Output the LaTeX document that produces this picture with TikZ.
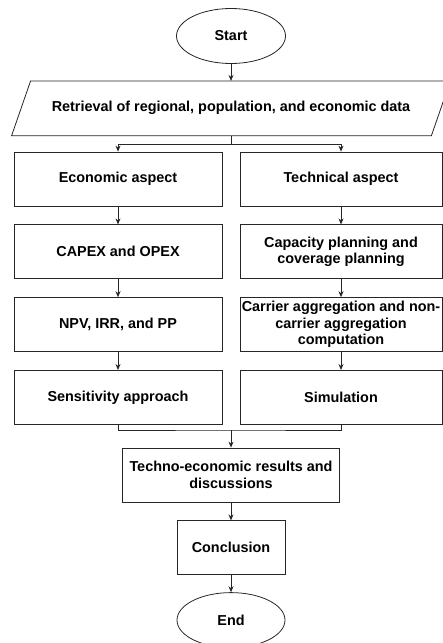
\documentclass[tikz,border=0pt]{standalone}
\usepackage{fontspec}
\setmainfont{Liberation Sans}
\usetikzlibrary{positioning}
\usetikzlibrary{shapes.geometric}
\usetikzlibrary{arrows.meta}

\begin{document}
\begin{tikzpicture}[
    x=1pt, y=1pt,
    line width=0.8pt,
    every node/.style={font=\fontsize{14.4}{16.6}\selectfont\bfseries, inner sep=1pt},
    box/.style={rectangle, draw=black!85, minimum width=208pt, minimum height=54pt, align=center},
    rbox/.style={box, minimum width=202pt},
    term/.style={ellipse, draw=black!85, minimum width=109pt, minimum height=55pt},
    io/.style={rectangle, minimum width=419pt, minimum height=54pt},
    >={Stealth[length=6pt, width=5pt]},
    node distance=18pt
    ]
    \useasboundingbox (0,0) rectangle (443,-643);
    %Nodes
    \node[term] (start) at (231,-36) {Start};
    \node[io] (data) [below=17pt of start] {Retrieval of regional, population, and economic data};
    \draw[black!85] ([xshift=-9.5pt]data.south west) -- ([xshift=-9.5pt]data.south east)
        -- ([xshift=9.5pt]data.north east) -- ([xshift=9.5pt]data.north west) -- cycle;

    \node[box] (1A) at (118,-179) {Economic aspect};
    \node[box] (1B) [below=of 1A] {CAPEX and OPEX};
    \node[box] (1C) [below=of 1B] {NPV, IRR, and PP};
    \node[box] (1D) [below=of 1C] {Sensitivity approach};

    \node[rbox] (2A) at (341,-179) {Technical aspect};
    \node[rbox] (2B) [below=of 2A] {Capacity planning and\\coverage planning};
    \node[rbox] (2C) [below=of 2B] {Carrier aggregation and non-\\carrier aggregation\\computation};
    \node[rbox] (2D) [below=of 2C] {Simulation};

    \node[box, minimum width=217pt] (res) at (231,-475) {Techno-economic results and\\discussions};
    \node[box, minimum width=108pt] (concl) [below=of res] {Conclusion};
    \node[term, minimum width=108pt] (stop) [below=17pt of concl] {End};

    \coordinate (fork) at (231,-144);
    \coordinate (merge) at (231,-430);

    %Lines
    \draw[->, black!85] (start) -- (data);
    \draw[black!85] (data.south) -- (fork);
    \draw[->, black!85] (fork) -| (1A);
    \draw[->, black!85] (fork) -| (2A);

    \draw[->, black!85] (1A) -- (1B);
    \draw[->, black!85] (1B) -- (1C);
    \draw[->, black!85] (1C) -- (1D);

    \draw[->, black!85] (2A) -- (2B);
    \draw[->, black!85] (2B) -- (2C);
    \draw[->, black!85] (2C) -- (2D);

    \draw[black!85] (1D) |- (merge) -| (2D);
    \draw[->, black!85] (merge) -- (res);
    \draw[->, black!85] (res) -- (concl);
    \draw[->, black!85] (concl) -- (stop);
\end{tikzpicture}
\end{document}
